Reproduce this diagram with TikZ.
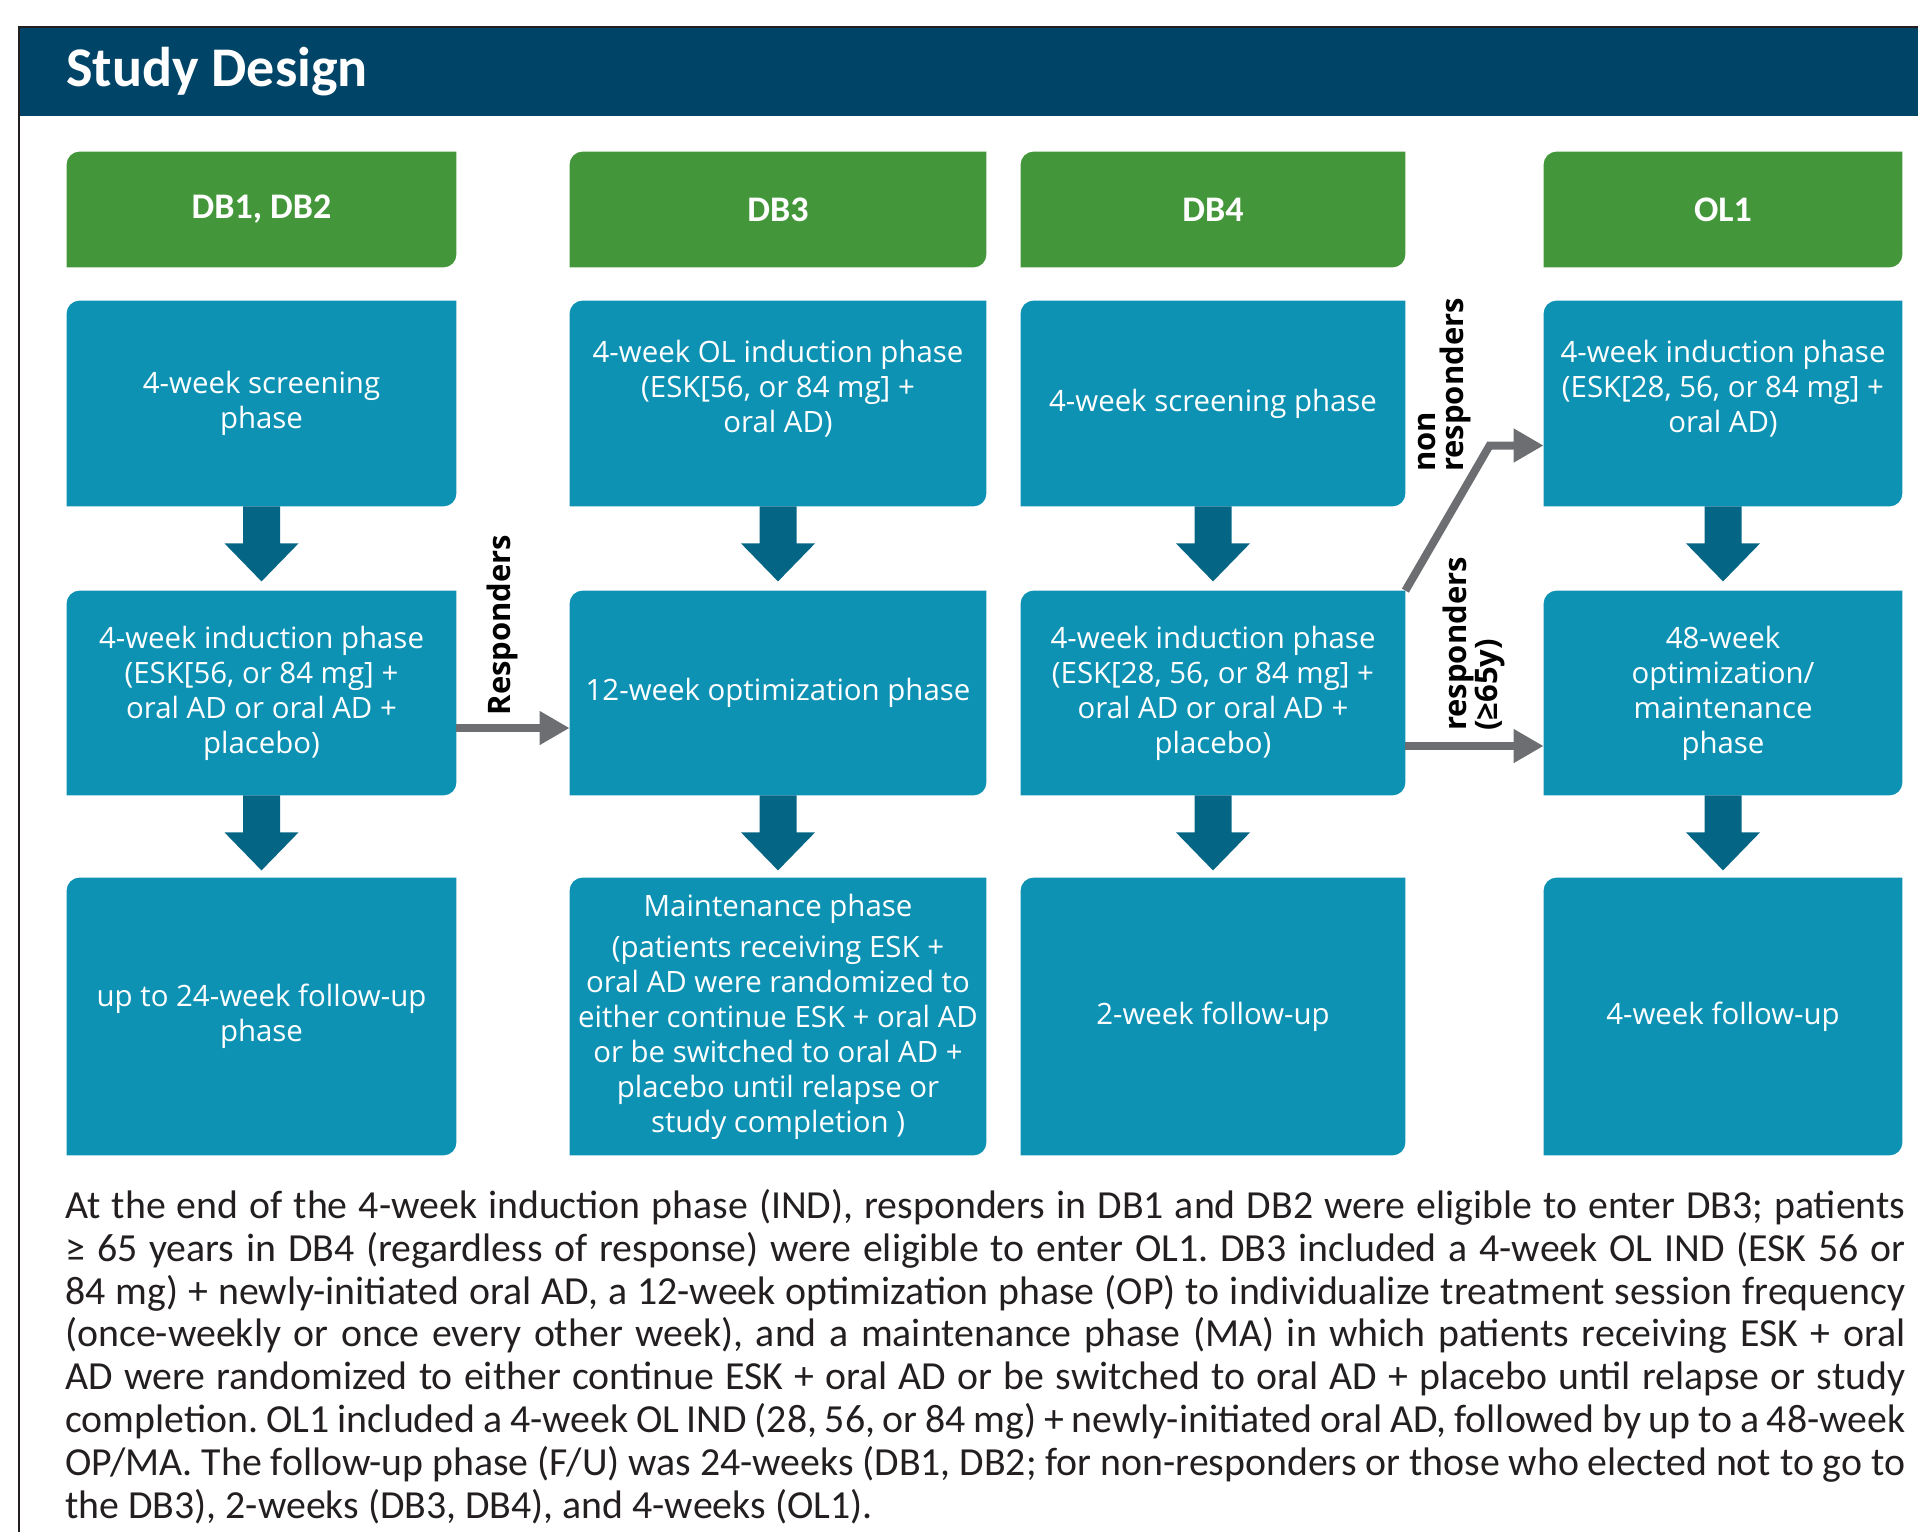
\documentclass[tikz,border=0pt]{standalone}
\usepackage{fontspec}
\setmainfont{Open Sans}
\newfontfamily\capfont{Carlito}
\usetikzlibrary{arrows.meta}
\usetikzlibrary{backgrounds}
\definecolor{design navy}{RGB}{0,69,104}
\definecolor{design green}{RGB}{67,151,58}
\definecolor{design blue}{RGB}{14,146,180}
\definecolor{design teal}{RGB}{5,101,133}
\definecolor{design grey}{RGB}{109,110,113}
\definecolor{design ink}{RGB}{35,31,32}

\newcommand{\leafr}{6.5pt}
\newcommand{\leaf}[2]{\fill[#2] (#1.south west) -- ([yshift=-\leafr]#1.north west) arc[start angle=180,end angle=90,radius=\leafr] -- (#1.north east) -- ([yshift=\leafr]#1.south east) arc[start angle=0,end angle=-90,radius=\leafr] -- cycle;}
\newcommand{\fatdown}[1]{\fill[design teal] (#1.south) ++(-18.5,0) -- ++(37,0) -- ++(0,-37) -- ++(18.5,0) -- ++(-37,-38) -- ++(-37,38) -- ++(18.5,0) -- cycle;}

\begin{document}
\begin{tikzpicture}[x=0.5pt, y=0.5pt,
					study head/.style={text=white, inner sep=0pt, minimum height=57.5pt, font=\capfont\bfseries\fontsize{18}{22}\selectfont},
					phase box/.style={text=white, align=center, inner sep=0pt, font=\fontsize{14.7}{17.5}\selectfont},
					flow label/.style={rotate=90, inner sep=0pt, text=black, font=\bfseries\fontsize{15.5}{14}\selectfont},
					flow arrow/.style={draw=design grey, line width=4pt, -{Triangle[length=15pt, width=16pt]}},
				]
					\useasboundingbox (0,0) rectangle (1918,-1532);
					\fill[design navy] (19,-27) rectangle (1918,-116);
					\draw[design ink, line width=1.2pt] (19,-1532) -- (19,-27) -- (1918,-27);
					\node[anchor=base west, inner sep=0pt, text=white, font=\capfont\bfseries\fontsize{28}{32}\selectfont] (title) at (66,-86) {Study Design};
					
					\node[study head, minimum width=194.5pt] (db12) at (261.5,-209.5) {DB1, DB2};
					\node[study head, minimum width=208pt] (db3) at (778,-209.5) {DB3};
					\node[study head, minimum width=192pt] (db4) at (1213,-209.5) {DB4};
					\node[study head, minimum width=179pt] (ol1) at (1723,-209.5) {OL1};
					
					\node[phase box, minimum width=194.5pt, minimum height=102.5pt] (db12scr) at (261.5,-403.5) {4-week screening\\phase};
					\node[phase box, minimum width=194.5pt, minimum height=102pt] (db12ind) at (261.5,-693) {4-week induction phase\\(ESK[56, or 84 mg] +\\oral AD or oral AD +\\placebo)};
					\node[phase box, minimum width=194.5pt, minimum height=138.5pt] (db12fu) at (261.5,-1016.5) {up to 24-week follow-up\\phase};
					
					\node[phase box, minimum width=208pt, minimum height=102.5pt] (db3ind) at (778,-403.5) {4-week OL induction phase\\(ESK[56, or 84 mg] +\\oral AD)\\\mbox{}};
					\node[phase box, minimum width=208pt, minimum height=102pt] (db3opt) at (778,-693) {12-week optimization phase};
					\node[phase box, minimum width=208pt, minimum height=138.5pt] (db3ma) at (778,-1016.5) {Maintenance phase\\[3pt](patients receiving ESK +\\oral AD were randomized to\\either continue ESK + oral AD\\or be switched to oral AD +\\placebo until relapse or\\study completion )};
					
					\node[phase box, minimum width=192pt, minimum height=102.5pt] (db4scr) at (1213,-403.5) {4-week screening phase};
					\node[phase box, minimum width=192pt, minimum height=102pt] (db4ind) at (1213,-693) {4-week induction phase\\(ESK[28, 56, or 84 mg] +\\oral AD or oral AD +\\placebo)};
					\node[phase box, minimum width=192pt, minimum height=138.5pt] (db4fu) at (1213,-1016.5) {2-week follow-up};
					
					\node[phase box, minimum width=179pt, minimum height=102.5pt] (ol1ind) at (1723,-403.5) {4-week induction phase\\(ESK[28, 56, or 84 mg] +\\oral AD)\\\mbox{}};
					\node[phase box, minimum width=179pt, minimum height=102pt] (ol1opt) at (1723,-693) {48-week\\optimization/\\maintenance\\phase};
					\node[phase box, minimum width=179pt, minimum height=138.5pt] (ol1fu) at (1723,-1016.5) {4-week follow-up};
					
					\begin{scope}[on background layer]
						\foreach \n in {db12, db3, db4, ol1} {\leaf{\n}{design green}}
						\foreach \n in {db12scr, db12ind, db12fu, db3ind, db3opt, db3ma, db4scr, db4ind, db4fu, ol1ind, ol1opt, ol1fu} {\leaf{\n}{design blue}}
					\end{scope}
					
					\foreach \n in {db12scr, db12ind, db3ind, db3opt, db4scr, db4ind, ol1ind, ol1opt} {\fatdown{\n}}
					
					\draw[flow arrow] ([yshift=-17.5pt]db12ind.east) -- ([yshift=-17.5pt]db3opt.west);
					\draw[flow arrow] ([yshift=-26.5pt]db4ind.east) -- ([yshift=-26.5pt]ol1opt.west);
					\draw[flow arrow] (db4ind.north east) -- ([xshift=-27pt, yshift=-21pt]ol1ind.west) -- ([yshift=-21pt]ol1ind.west);
					
					\node[flow label] (resp) at (502,-625) {Responders};
					\node[flow label, align=left] (nonresp) at (1445,-385) {non\\responders};
					\node[flow label, align=left] (resp65) at (1474,-644) {responders\\(≥65y)};
					
					\node[anchor=north west, inner sep=0pt, text width=920pt, align=justify, text=design ink, font=\capfont\frenchspacing\fontsize{19.9}{21.4}\selectfont] (note) at (65,-1189) {At the end of the 4-week induction phase (IND), responders in DB1 and DB2 were eligible to enter DB3; patients\linebreak
					≥ 65 years in DB4 (regardless of response) were eligible to enter OL1. DB3 included a 4-week OL IND (ESK 56 or\linebreak
					84 mg) + newly-initiated oral AD, a 12-week optimization phase (OP) to individualize treatment session frequency\linebreak
					(once-weekly or once every other week), and a maintenance phase (MA) in which patients receiving ESK + oral\linebreak
					AD were randomized to either continue ESK + oral AD or be switched to oral AD + placebo until relapse or study\linebreak
					completion. OL1 included a 4-week OL IND (28, 56, or 84 mg) + newly-initiated oral AD, followed by up to a 48-week\linebreak
					OP/MA. The follow-up phase (F/U) was 24-weeks (DB1, DB2; for non-responders or those who elected not to go to\linebreak
					the DB3), 2-weeks (DB3, DB4), and 4-weeks (OL1).};
				\end{tikzpicture}
\end{document}
